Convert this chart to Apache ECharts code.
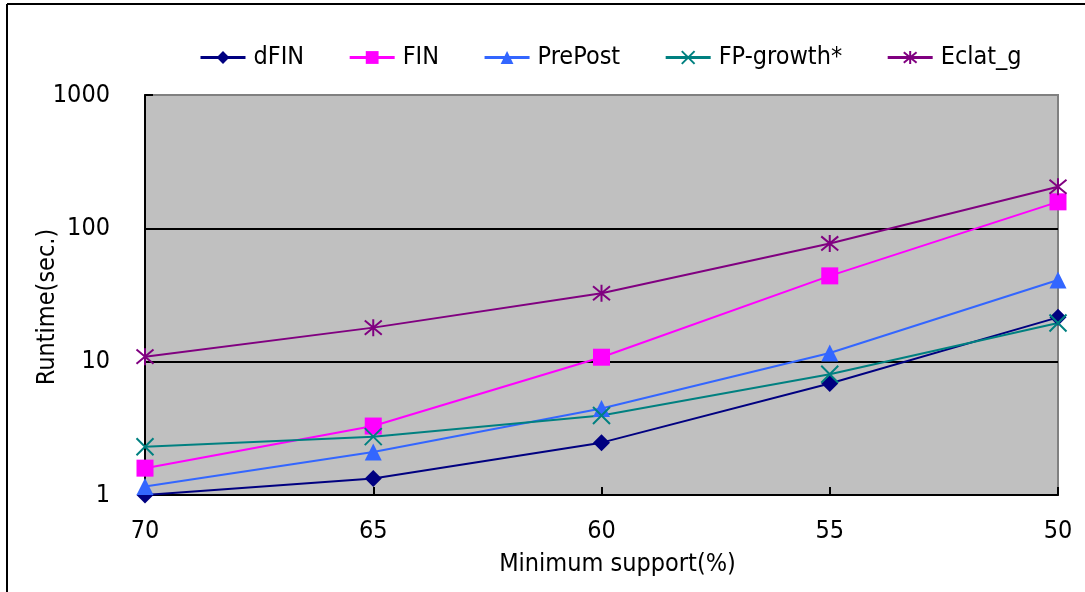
<!DOCTYPE html>
<html>
<head>
<meta charset="utf-8">
<script src="https://cdn.jsdelivr.net/npm/echarts@6/dist/echarts.min.js"></script>
<style>html,body{margin:0;padding:0;background:#fff}#c{width:1085px;height:592px}</style>
</head>
<body>
<div id="c"></div>
<script>
const categories = ['70', '65', '60', '55', '50'];
const dFIN = [1.0, 1.33, 2.47, 6.85, 21.5];
const FIN = [1.59, 3.29, 10.8, 44, 158];
const PrePost = [1.16, 2.1, 4.45, 11.6, 41];
const FPgrowth = [2.3, 2.74, 3.95, 8.05, 19.5];
const Eclat_g = [10.9, 18, 32.6, 77, 205];
const seriesNames = ['dFIN', 'FIN', 'PrePost', 'FP-growth*', 'Eclat_g'];

const FONT = '"DejaVu Sans Condensed", "DejaVu Sans", sans-serif';
const FS = 25;
const xPath = 'path://M0,0 L10,10 M10,0 L0,10';
const starPath = 'path://M0,0 L10,10 M10,0 L0,10 M5,-1 L5,11';

function mk(name, data, color, symbol, stroke) {
  return {
    name: name, type: 'line', data: data,
    symbol: symbol, symbolSize: 17,
    lineStyle: { color: color, width: 2 },
    itemStyle: stroke ? { color: color, borderColor: color, borderWidth: 2 } : { color: color, borderWidth: 0 },
    emphasis: { disabled: true },
    z: 3
  };
}

const chart = echarts.init(document.getElementById('c'), null, { renderer: 'canvas' });
chart.setOption({
  backgroundColor: '#fff',
  animation: false,
  textStyle: { fontFamily: FONT },
  graphic: [
    { type: 'line', shape: { x1: 7, y1: 4, x2: 1085, y2: 4 }, style: { stroke: '#000', lineWidth: 2 } },
    { type: 'line', shape: { x1: 7, y1: 4, x2: 7, y2: 592 }, style: { stroke: '#000', lineWidth: 2 } }
  ],
  legend: {
    data: seriesNames,
    top: 40, left: 194,
    itemWidth: 45, itemHeight: 16, itemGap: 44,
    lineStyle: { width: 3 },
    textStyle: { fontSize: FS, color: '#000', fontFamily: FONT, padding: [0, 0, 0, 3] }
  },
  grid: {
    left: 145, right: 27, top: 95, bottom: 97,
    show: true, backgroundColor: '#c0c0c0', borderColor: '#808080', borderWidth: 2
  },
  xAxis: {
    type: 'category', data: categories, boundaryGap: false,
    name: 'Minimum support(%)', nameLocation: 'middle', nameGap: 57,
    nameMoveOverlap: false,
    nameTextStyle: { fontSize: FS, color: '#000', fontFamily: FONT, padding: [0, 0, 0, 32] },
    axisLine: { lineStyle: { color: '#000', width: 2 } },
    axisTick: { show: true, inside: true, length: 8, lineStyle: { color: '#000', width: 2 } },
    axisLabel: { fontSize: FS, color: '#000', margin: 24, fontFamily: FONT },
    splitLine: { show: false }
  },
  yAxis: {
    type: 'log', logBase: 10, min: 1, max: 1000,
    name: 'Runtime(sec.)', nameLocation: 'middle', nameGap: 85,
    nameMoveOverlap: false,
    nameTextStyle: { fontSize: FS, color: '#000', fontFamily: FONT, padding: [0, 24, 0, 0] },
    axisLine: { show: true, lineStyle: { color: '#000', width: 2 } },
    axisTick: { show: true, inside: true, length: 8, lineStyle: { color: '#000', width: 2 } },
    axisLabel: { fontSize: FS, color: '#000', margin: 35, fontFamily: FONT, formatter: function (v) { return String(v); } },
    minorTick: { show: false },
    splitLine: { show: true, lineStyle: { color: ['#808080', '#000', '#000', '#808080'], width: 2 } }
  },
  series: [
    mk('dFIN', dFIN, '#000080', 'diamond', false),
    mk('FIN', FIN, '#ff00ff', 'rect', false),
    mk('PrePost', PrePost, '#3366ff', 'triangle', false),
    mk('FP-growth*', FPgrowth, '#008080', xPath, true),
    mk('Eclat_g', Eclat_g, '#800080', starPath, true)
  ]
});
</script>
</body>
</html>
